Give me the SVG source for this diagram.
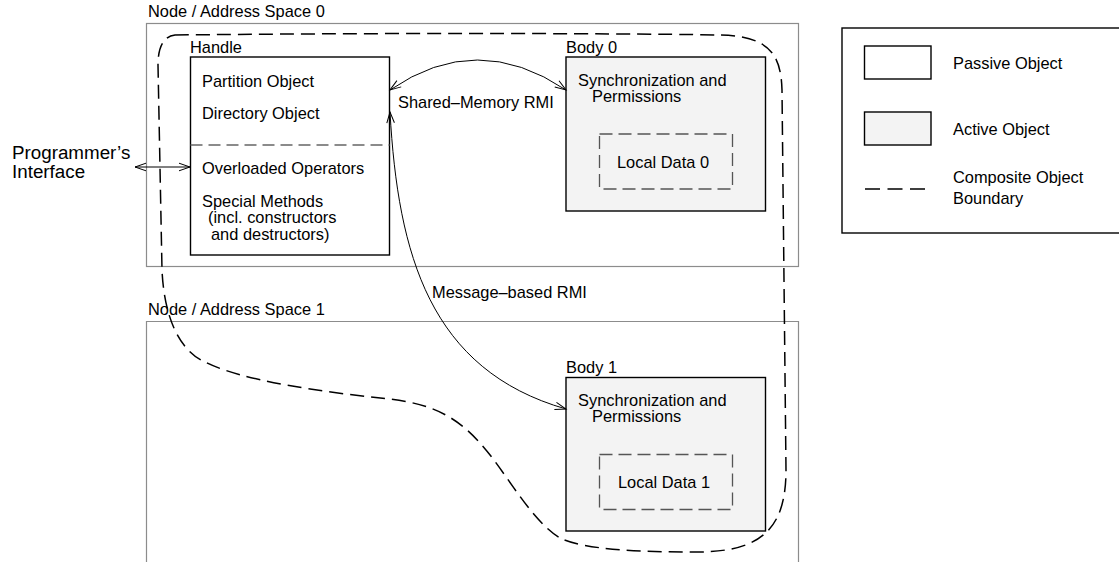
<svg xmlns="http://www.w3.org/2000/svg" width="1119" height="562" viewBox="0 0 1119 562">
<style>
text{font-family:"Liberation Sans",Arial,sans-serif;font-size:16.4px;fill:#000}
.big{font-size:18.8px}
.node{fill:none;stroke:#8c8c8c;stroke-width:1.2}
.passive{fill:#fff;stroke:#000;stroke-width:1.4}
.active{fill:#f3f3f3;stroke:#000;stroke-width:1.4}
.local{fill:none;stroke:#555;stroke-width:1.3;stroke-dasharray:13 6}
.sep{fill:none;stroke:#666;stroke-width:1.3;stroke-dasharray:12 6}
.boundary{fill:none;stroke:#000;stroke-width:1.5;stroke-dasharray:14 7}
.conn{fill:none;stroke:#000;stroke-width:1}
</style>
<defs>
<marker id="ah" viewBox="-12 -6 14 12" refX="0" refY="0" markerWidth="14" markerHeight="12" markerUnits="userSpaceOnUse" orient="auto-start-reverse">
<path d="M-11,-3.8 L0,0 L-11,3.8" fill="none" stroke="#000" stroke-width="1"/>
</marker>
</defs>

<g id="node0">
<rect class="node" x="146.5" y="23.5" width="652" height="243"/>
<text x="148" y="17">Node / Address Space 0</text>
</g>
<g id="node1">
<path class="node" d="M146.5,565 V321.5 H798.5 V565"/>
<text x="148" y="315">Node / Address Space 1</text>
</g>

<g id="boundary">
<path class="boundary" d="M175,35 C350,33 600,33 720,35 C770,36 781,55 782,90 L786,470 C786,530 760,551 700,552 C640,552 585,550 560,538 C530,520 505,470 480,443 C455,415 430,404 390,399 C320,392 240,380 205,362 C178,350 164,315 162,270 L158,65 C158,45 165,36 175,35 Z"/>
</g>

<g id="handle">
<rect class="passive" x="190.5" y="57" width="199" height="198"/>
<text x="190" y="53">Handle</text>
<text x="202" y="87">Partition Object</text>
<text x="202" y="119">Directory Object</text>
<line class="sep" x1="190.5" y1="145" x2="389.5" y2="145"/>
<text x="202" y="174">Overloaded Operators</text>
<text x="202" y="207">Special Methods</text>
<text x="208" y="223">(incl. constructors</text>
<text x="211" y="240">and destructors)</text>
</g>

<g id="body0">
<rect class="active" x="566" y="57" width="199.5" height="154"/>
<text x="566" y="53">Body 0</text>
<text x="578" y="86">Synchronization and</text>
<text x="592" y="102">Permissions</text>
<rect class="local" x="599.5" y="134" width="133" height="55"/>
<text x="617" y="168">Local Data 0</text>
</g>

<g id="body1">
<rect class="active" x="566" y="377.5" width="199.5" height="153.5"/>
<text x="566" y="373">Body 1</text>
<text x="578" y="406">Synchronization and</text>
<text x="592" y="422">Permissions</text>
<rect class="local" x="599.5" y="454.5" width="133" height="55"/>
<text x="618" y="488">Local Data 1</text>
</g>

<g id="programmer">
<text class="big" x="12" y="159">Programmer’s</text>
<text class="big" x="12" y="178">Interface</text>
</g>

<g id="legend">
<rect fill="#fff" stroke="#000" stroke-width="1.4" x="842" y="28" width="290" height="205"/>
<rect class="passive" x="864.5" y="46" width="66.5" height="33"/>
<text x="953" y="69">Passive Object</text>
<rect class="active" x="864.5" y="112" width="66.5" height="33"/>
<text x="953" y="135">Active Object</text>
<line x1="865" y1="189" x2="925" y2="189" stroke="#000" stroke-width="1.4" stroke-dasharray="15 7.5"/>
<text x="953" y="183">Composite Object</text>
<text x="953" y="204">Boundary</text>
</g>

<g id="connectors">
<path class="conn" d="M390,90 Q477,30 566,90" marker-start="url(#ah)" marker-end="url(#ah)"/>
<path class="conn" d="M390,112 C398,255 430,370 566,409" marker-start="url(#ah)" marker-end="url(#ah)"/>
<line class="conn" x1="135" y1="167" x2="190" y2="167" marker-start="url(#ah)" marker-end="url(#ah)"/>
<text x="398" y="108">Shared–Memory RMI</text>
<text x="432" y="298">Message–based RMI</text>
</g>
</svg>
